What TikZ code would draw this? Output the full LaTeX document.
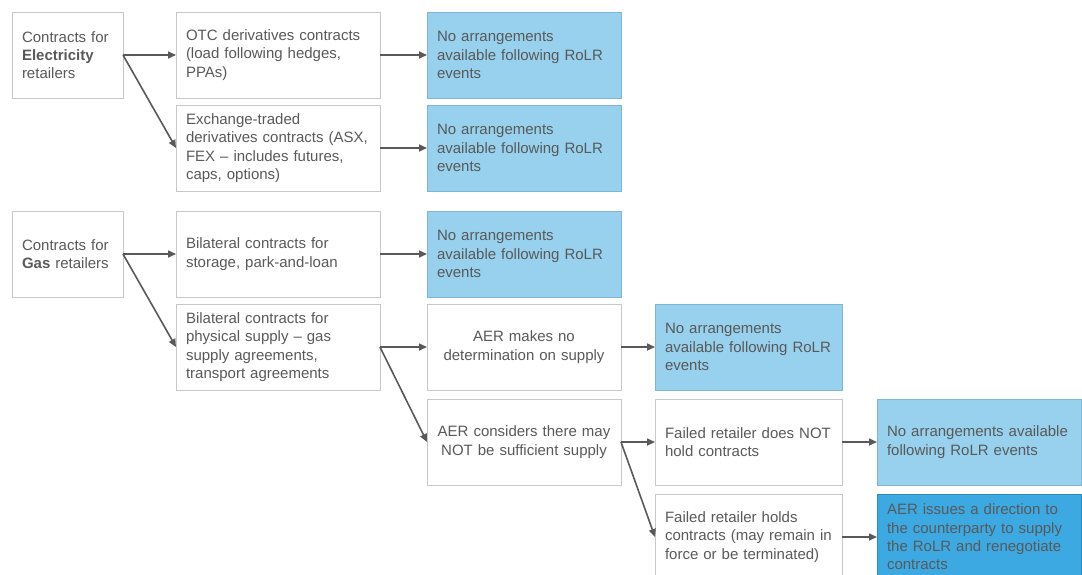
\documentclass[tikz,border=0pt]{standalone}
\usepackage{fontspec}
\setmainfont{Liberation Sans}
\usepackage{xcolor}
\usetikzlibrary{positioning, arrows.meta}

\definecolor{txtgrey}{HTML}{595959}
\definecolor{boxline}{HTML}{C8C8C8}
\definecolor{paleblue}{HTML}{97D1EE}
\definecolor{paleline}{HTML}{7DB6D6}
\definecolor{deepblue}{HTML}{3CA9E2}
\definecolor{deepline}{HTML}{2A8AC4}

\begin{document}
\begin{tikzpicture}[
  font=\fontsize{15}{18.3}\selectfont,
  >={Triangle[length=8pt,width=7pt]},
  node distance=7pt and 47pt,
  box/.style={draw=boxline, line width=1pt, text=txtgrey, align=left,
              minimum height=86pt, inner xsep=10pt, inner ysep=0pt,
              outer sep=0pt},
  src/.style   ={box, text width=91pt},
  contr/.style ={box, text width=184pt},
  aer/.style   ={box, text width=174pt, align=center},
  retl/.style  ={box, text width=167pt},
  nar/.style   ={box, fill=paleblue, draw=paleline, text width=174pt},
  narw/.style  ={nar, text width=167pt},
  narx/.style  ={nar, text width=184pt},
  dirbox/.style={box, fill=deepblue, draw=deepline, text width=184pt},
  flow/.style={->, line width=1.6pt, draw=txtgrey},
]
\useasboundingbox (0,0) rectangle (1082pt,-574pt);
\clip (0,0) rectangle (1082pt,-574pt);

% Electricity retailers
\node[src, anchor=north west] (elec) at (12pt,-12pt) {Contracts for\\\textbf{Electricity}\\retailers};
\node[contr, right=53pt of elec] (otc) {OTC derivatives contracts\\(load following hedges,\\PPAs)};
\node[nar, right=of otc] (nar1) {No arrangements\\available following RoLR\\events};
\node[contr, below=of otc] (exch) {Exchange-traded\\derivatives contracts (ASX,\\FEX -- includes futures,\\caps, options)};
\node[nar, right=of exch] (nar2) {No arrangements\\available following RoLR\\events};

% Gas retailers
\node[contr, below=20pt of exch] (stor) {Bilateral contracts for\\storage, park-and-loan};
\node[src, left=53pt of stor] (gas) {Contracts for\\\textbf{Gas} retailers};
\node[nar, right=of stor] (nar3) {No arrangements\\available following RoLR\\events};
\node[contr, below=of stor] (phys) {Bilateral contracts for\\physical supply -- gas\\supply agreements,\\transport agreements};
\node[aer, right=of phys] (nodet) {AER makes no\\determination on supply};
\node[narw, right=34pt of nodet] (nar4) {No arrangements\\available following RoLR\\events};
\node[aer, below=9pt of nodet] (insuff) {AER considers there may\\NOT be sufficient supply};
\node[retl, right=34pt of insuff] (nohold) {Failed retailer does NOT\\hold contracts};
\node[narx, right=35pt of nohold] (nar5) {No arrangements available\\following RoLR events};
\node[retl, below=9pt of nohold] (hold) {Failed retailer holds\\contracts (may remain in\\force or be terminated)};
\node[dirbox, right=35pt of hold] (direct) {AER issues a direction to\\the counterparty to supply\\the RoLR and renegotiate\\contracts};

% --- connectors ---
\draw[flow] (elec.east) -- (otc.west);
\draw[flow] (elec.east) -- (exch.west);
\draw[flow] (otc) -- (nar1);
\draw[flow] (exch) -- (nar2);
\draw[flow] (gas.east) -- (stor.west);
\draw[flow] (gas.east) -- (phys.west);
\draw[flow] (stor) -- (nar3);
\draw[flow] (phys.east) -- (nodet.west);
\draw[flow] (phys.east) -- (insuff.west);
\draw[flow] (nodet) -- (nar4);
\draw[flow] (insuff.east) -- (nohold.west);
\draw[flow] (insuff.east) -- (hold.west);
\draw[flow] (nohold) -- (nar5);
\draw[flow] (hold) -- (direct);

\end{tikzpicture}
\end{document}
